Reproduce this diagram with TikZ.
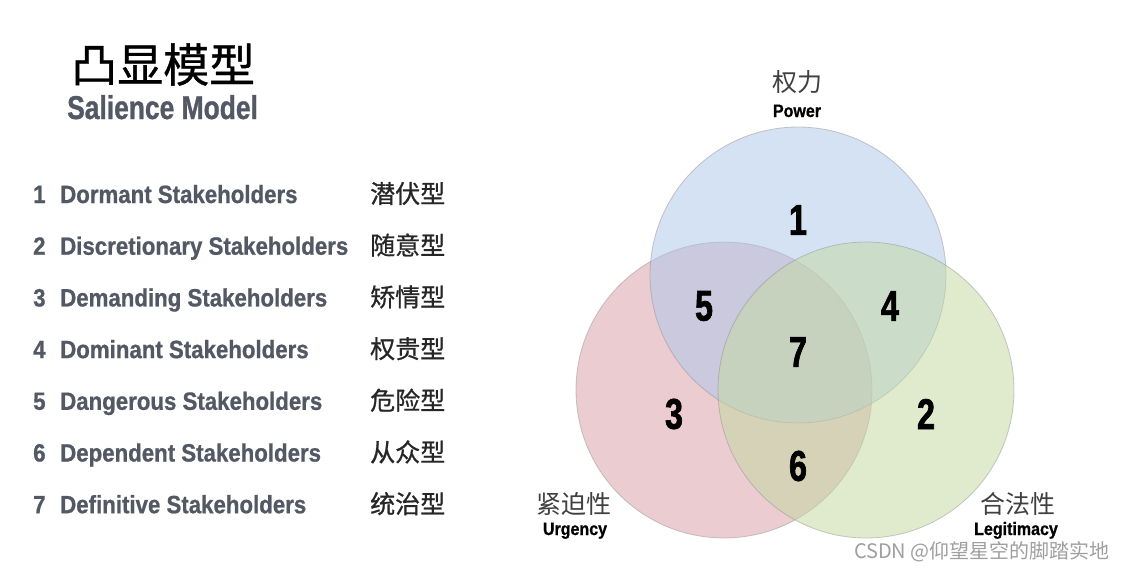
\documentclass[tikz,border=0pt]{standalone}
\usepackage{fontspec}
\usepackage{xcolor}
\setmainfont{Liberation Sans}
\newfontfamily\cjkfont{Noto Sans CJK SC}
\newfontfamily\cjkmedium[FakeBold=0.8]{Noto Sans CJK SC}
\newfontfamily\heavyfont[FakeStretch=0.89, BoldFeatures={FakeBold=0.8}]{Liberation Sans}
\newfontfamily\widefont[FakeStretch=0.8, BoldFeatures={FakeBold=1}]{Liberation Sans}
\newfontfamily\digitfont[FakeStretch=0.75, BoldFeatures={FakeBold=1.5}]{Liberation Sans}
\definecolor{powfill}{RGB}{171,199,235}
\definecolor{urgfill}{RGB}{217,155,165}
\definecolor{legfill}{RGB}{195,217,159}
\definecolor{listgray}{RGB}{84,88,100}

\begin{document}
\begin{tikzpicture}[x=1pt, y=-1pt]
        \tikzset{venn/.style={draw=gray!90, line width=0.8pt, draw opacity=0.45, fill opacity=0.5}}
        \tikzset{region/.style={inner sep=0pt, font=\digitfont\bfseries\fontsize{43}{43}\selectfont}}
        \tikzset{row/.style={anchor=base west, inner sep=0pt, text=listgray, font=\heavyfont\bfseries\fontsize{25}{25}\selectfont}}
        \tikzset{rowcn/.style={anchor=base west, inner sep=0pt, text=black!85, font=\cjkmedium\fontsize{25}{25}\selectfont}}
        \tikzset{setcn/.style={anchor=base, inner sep=0pt, text=black!75, font=\cjkfont\fontsize{25}{25}\selectfont}}
        \tikzset{seten/.style={anchor=base, inner sep=0pt, font=\heavyfont\bfseries\fontsize{18}{18}\selectfont}}

        \fill[white] (0,0) rectangle (1124,570);
        \useasboundingbox (0,0) rectangle (1124,570);

        % title
        \node[anchor=base west, inner sep=0pt, font=\cjkmedium\fontsize{46}{46}\selectfont] (title) at (71,82) {凸显模型};
        \node[anchor=base west, inner sep=0pt, text=listgray, font=\widefont\bfseries\fontsize{33}{33}\selectfont] (subtitle) at (67,119) {Salience Model};

        % list of stakeholder types
        \foreach \i/\en/\cn in {1/Dormant/潜伏型, 2/Discretionary/随意型, 3/Demanding/矫情型, 4/Dominant/权贵型, 5/Dangerous/危险型, 6/Dependent/从众型, 7/Definitive/统治型} {
            \node[row] (num\i) at (33, {203+51.7*(\i-1)}) {\i};
            \node[row] (name\i) at (60, {203+51.7*(\i-1)}) {\en\ Stakeholders};
            \node[rowcn] (cn\i) at (370, {203+51.7*(\i-1)}) {\cn};
        }

        % the three circles
        \filldraw[venn, fill=urgfill] (724,390) circle (148pt);
        \filldraw[venn, fill=powfill] (798,275) circle (148pt);
        \filldraw[venn, fill=legfill] (866,390) circle (148pt);

        \node[region] (r1) at (798,220) {1};
        \node[region] (r2) at (926,414) {2};
        \node[region] (r3) at (674,414) {3};
        \node[region] (r4) at (890,306) {4};
        \node[region] (r5) at (704,306) {5};
        \node[region] (r6) at (798,466) {6};
        \node[region] (r7) at (798,352) {7};

        \node[setcn] (powercn) at (797,91) {权力};
        \node[seten] (poweren) at (797,117) {Power};
        \node[setcn] (urgcn) at (574,513) {紧迫性};
        \node[seten] (urgen) at (575,535) {Urgency};
        \node[setcn] (legcn) at (1018,513) {合法性};
        \node[seten] (legen) at (1016,535) {Legitimacy};

        \node[anchor=base east, inner sep=0pt, text=gray!75, font=\cjkfont\fontsize{20}{20}\selectfont] (mark) at (1110,558) {CSDN @仰望星空的脚踏实地};

    \end{tikzpicture}
\end{document}
